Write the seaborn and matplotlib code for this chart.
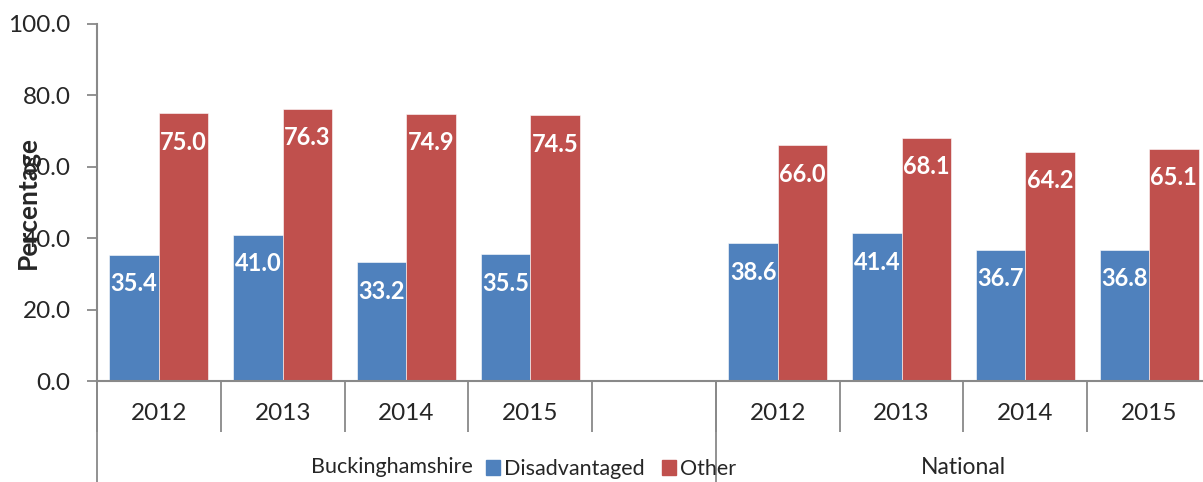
import numpy as np
import pandas as pd
import matplotlib
matplotlib.use('Agg')
import matplotlib.pyplot as plt
import seaborn as sns
from matplotlib.patches import Patch

sns.set_style('white')
plt.rcParams['font.family'] = ['Lato', 'DejaVu Sans']

years = ['2012', '2013', '2014', '2015']
scores = {
    'Buckinghamshire': {'Disadvantaged': [35.4, 41.0, 33.2, 35.5],
                        'Other': [75.0, 76.3, 74.9, 74.5]},
    'National': {'Disadvantaged': [38.6, 41.4, 36.7, 36.8],
                 'Other': [66.0, 68.1, 64.2, 65.1]},
}
colours = {'Disadvantaged': '#4F81BD', 'Other': '#C0504D'}
grey = '#898989'

rows = []
for area, groups in scores.items():
    for group, values in groups.items():
        for year, v in zip(years, values):
            rows.append({'slot': f'{area} {year}', 'group': group, 'value': v})
df = pd.DataFrame(rows)

# empty slot between the two areas
order = [f'Buckinghamshire {y}' for y in years] + ['gap'] + [f'National {y}' for y in years]

fig = plt.figure(figsize=(12.03, 4.82), dpi=100)
ax = fig.add_axes([97 / 1203, 101 / 482, 1114 / 1203, 357 / 482])

sns.barplot(data=df, x='slot', y='value', hue='group', order=order,
            hue_order=['Disadvantaged', 'Other'], palette=colours,
            width=0.8, saturation=1, edgecolor='white', linewidth=0.4,
            legend=False, ax=ax)

for container in ax.containers:
    for bar in container:
        h = bar.get_height()
        if np.isnan(h):
            continue
        ax.annotate(f'{h:.1f}', (bar.get_x() + bar.get_width() / 2, h),
                    xytext=(0, -29), textcoords='offset pixels',
                    ha='center', va='center', color='white',
                    fontsize=17, fontweight='bold')

ax.set_xlim(-0.5, 8.5)
ax.set_ylim(0, 100)
ax.set_yticks(np.arange(0, 101, 20))
ax.set_yticklabels([f'{t:.1f}' for t in np.arange(0, 101, 20)])
ax.set_xticks(range(9))
ax.set_xticklabels(years + [''] + years)
ax.set_xticks(np.arange(-0.5, 9, 1), minor=True)
ax.set_xlabel('')
ax.set_ylabel('Percentage', fontsize=19, fontweight='bold', va='center')
ax.yaxis.set_label_coords(-69 / 1114, 0.5)

for side in ['top', 'right']:
    ax.spines[side].set_visible(False)
for side in ['left', 'bottom']:
    ax.spines[side].set_color(grey)
    ax.spines[side].set_linewidth(1.5)

ax.tick_params(axis='y', length=7, width=1.3, color=grey, pad=12,
               labelsize=17.5, left=True)
ax.tick_params(axis='x', which='major', length=0, pad=16, labelsize=17.5)
ax.tick_params(axis='x', which='minor', length=37, width=1.3, color=grey,
               direction='out', bottom=True)

# long separators for the area groups
for x in [-0.5, 4.5]:
    ax.axvline(x, ymin=-101 / 357, ymax=0, color=grey, lw=1.3, clip_on=False)

ax.annotate('Buckinghamshire', (1.88, 0), xycoords=('data', 'axes fraction'),
            xytext=(0, -86), textcoords='offset pixels',
            ha='center', va='center', fontsize=15.5)
ax.annotate('National', (6.5, 0), xycoords=('data', 'axes fraction'),
            xytext=(0, -86), textcoords='offset pixels',
            ha='center', va='center', fontsize=16.5)

handles = [Patch(color=colours[g], label=g) for g in ['Disadvantaged', 'Other']]
fig.legend(handles=handles, loc='center', bbox_to_anchor=(0.508, 0.027),
           ncol=2, frameon=False, fontsize=15.5, handlelength=0.65,
           handleheight=0.65, handletextpad=0.2, columnspacing=0.8)

plt.savefig('out.png', dpi=100)
